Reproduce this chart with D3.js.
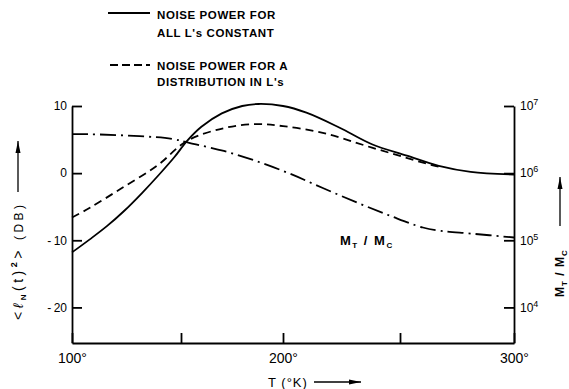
<!DOCTYPE html>
<html>
<head>
<meta charset="utf-8">
<script src="https://cdn.jsdelivr.net/npm/d3@7"></script>
<style>
  body { margin: 0; background: #fff; }
  svg { display: block; font-family: "Liberation Sans", Arial, sans-serif; }
</style>
</head>
<body>
<svg id="chart" width="569" height="389"></svg>
<script>
// temperatures (deg K) and values
const solidT  = [100, 108, 116, 124, 132, 140, 147, 153, 160, 170, 180, 188, 200, 210, 224, 238, 253, 267, 281, 300];
const solidDB = [-11.8, -9.9, -7.9, -5.6, -3.0, -0.2, 2.4, 4.8, 6.9, 8.9, 10.0, 10.3, 10.0, 9.0, 6.8, 4.3, 2.6, 1.1, 0.2, -0.2];

const dashT  = [100, 108, 122, 139, 153, 171, 187, 200, 217, 238, 264, 268];
const dashDB = [-6.6, -5.2, -2.4, 1.1, 4.8, 6.7, 7.3, 7.0, 6.0, 3.8, 1.2, 0.9];

const ratioT = [100, 108, 131, 146, 154, 171, 187, 203, 217, 232, 246, 260, 268, 281, 300];
const ratioM = [3.8e6, 3.8e6, 3.55e6, 3.24e6, 2.82e6, 2.14e6, 1.51e6, 9.8e5, 6.0e5, 3.6e5, 2.3e5, 1.55e5, 1.38e5, 1.26e5, 1.1e5];

const xTicks = [100, 150, 200, 250, 300];
const xLabels = {100: "100°", 200: "200°", 300: "300°"};
const dbTicks = [10, 0, -10, -20];
const mTicks = [1e4, 1e5, 1e6, 1e7];

const svg = d3.select("#chart");
const plot = {left: 72, right: 514, top: 106, bottom: 343};

// the hand-drawn T axis is not quite even, so follow its tick marks
const x = d3.scaleLinear()
  .domain([100, 150, 200, 250, 300])
  .range([plot.left, 181, 283, 400, plot.right]);

const y = d3.scaleLinear().domain([-25.3, 10]).range([plot.bottom, plot.top]);
const yM = d3.scaleLog().domain([Math.pow(10, 7 - 3.53), 1e7]).range([plot.bottom, plot.top]);

// axes
const gx = svg.append("g")
  .attr("transform", "translate(0," + plot.bottom + ")")
  .call(d3.axisBottom(x).tickValues(xTicks).tickSize(-10).tickSizeOuter(0).tickPadding(10)
    .tickFormat(function(d) { return xLabels[d] || ""; }));

const gy = svg.append("g")
  .attr("transform", "translate(" + plot.left + ",0)")
  .call(d3.axisLeft(y).tickValues(dbTicks).tickSize(-10).tickSizeOuter(0).tickPadding(5)
    .tickFormat(function(d) { return d < 0 ? "-\u2009" + (-d) : d; }));

const gm = svg.append("g")
  .attr("transform", "translate(" + plot.right + ",0)")
  .call(d3.axisRight(yM).tickValues(mTicks).tickSize(-10).tickSizeOuter(0).tickPadding(6)
    .tickFormat(function() { return ""; }));

gm.selectAll(".tick text").each(function(d) {
  const t = d3.select(this);
  t.append("tspan").text("10");
  t.append("tspan").attr("dy", "-5").attr("font-size", 9).text(Math.round(Math.log10(d)));
});

svg.selectAll(".domain, .tick line").attr("stroke", "#000").attr("stroke-width", 1.8);
gx.selectAll("text").attr("font-size", 14).attr("fill", "#000");
gy.selectAll("text").attr("font-size", 12).attr("fill", "#000");
gm.selectAll("text").attr("font-size", 12).attr("fill", "#000");

// curves
const lineDB = d3.line()
  .x(function(d) { return x(d[0]); })
  .y(function(d) { return y(d[1]); })
  .curve(d3.curveCatmullRom.alpha(0.5));
const lineM = d3.line()
  .x(function(d) { return x(d[0]); })
  .y(function(d) { return yM(d[1]); })
  .curve(d3.curveCatmullRom.alpha(0.5));

svg.append("path")
  .datum(d3.zip(solidT, solidDB))
  .attr("d", lineDB)
  .attr("fill", "none").attr("stroke", "#000").attr("stroke-width", 1.8);

svg.append("path")
  .datum(d3.zip(dashT, dashDB))
  .attr("d", lineDB)
  .attr("fill", "none").attr("stroke", "#000").attr("stroke-width", 1.8)
  .attr("stroke-dasharray", "8,5");

svg.append("path")
  .datum(d3.zip(ratioT, ratioM))
  .attr("d", lineM)
  .attr("fill", "none").attr("stroke", "#000").attr("stroke-width", 1.8)
  .attr("stroke-dasharray", "16,5,2,5");

// legend
const legend = svg.append("g").attr("font-size", 11.5).attr("font-weight", "bold").attr("letter-spacing", 0.6);
legend.append("line").attr("x1", 108).attr("x2", 150).attr("y1", 13).attr("y2", 13)
  .attr("stroke", "#000").attr("stroke-width", 1.8);
legend.append("text").attr("x", 157).attr("y", 19).text("NOISE POWER FOR");
legend.append("text").attr("x", 157).attr("y", 37).text("ALL L's CONSTANT");
legend.append("line").attr("x1", 110).attr("x2", 150).attr("y1", 65).attr("y2", 65)
  .attr("stroke", "#000").attr("stroke-width", 1.8).attr("stroke-dasharray", "8,4");
legend.append("text").attr("x", 157).attr("y", 70).text("NOISE POWER FOR A");
legend.append("text").attr("x", 157).attr("y", 86).text("DISTRIBUTION IN L's");

// inner curve label
const inner = svg.append("text").attr("x", 340).attr("y", 245)
  .attr("font-size", 13).attr("font-weight", "bold").attr("letter-spacing", 1.5);
inner.append("tspan").text("M");
inner.append("tspan").attr("dy", 3).attr("font-size", 8).text("T");
inner.append("tspan").attr("dy", -3).text(" / M");
inner.append("tspan").attr("dy", 3).attr("font-size", 8).text("C");

// arrow helper
function arrow(x1, y1, x2, y2) {
  svg.append("line").attr("x1", x1).attr("y1", y1).attr("x2", x2).attr("y2", y2)
    .attr("stroke", "#000").attr("stroke-width", 1.3);
  const a = Math.atan2(y2 - y1, x2 - x1), L = 12, W = 2.5;
  const bx = x2 - L * Math.cos(a), by = y2 - L * Math.sin(a);
  svg.append("path")
    .attr("d", "M" + x2 + "," + y2 +
      "L" + (bx - W * Math.sin(a)) + "," + (by + W * Math.cos(a)) +
      "L" + (bx + W * Math.sin(a)) + "," + (by - W * Math.cos(a)) + "Z")
    .attr("fill", "#000");
}

// x axis title
svg.append("text").attr("x", 268).attr("y", 387).attr("font-size", 13).attr("letter-spacing", 1)
  .text("T (°K)");
arrow(314, 382, 361, 382);

// left axis title
const yl = svg.append("text")
  .attr("transform", "translate(23,320) rotate(-90)")
  .attr("font-size", 14).attr("letter-spacing", 3.5);
yl.append("tspan").text("<");
yl.append("tspan").attr("font-style", "italic").text("ℓ");
yl.append("tspan").attr("dy", 3).attr("font-size", 8).attr("font-weight", "bold").text("N");
yl.append("tspan").attr("dy", -3).text("(t)");
yl.append("tspan").attr("dy", -6).attr("font-size", 9).attr("font-weight", "bold").text("2");
yl.append("tspan").attr("dy", 6).text(">");
yl.append("tspan").attr("dx", 7).attr("font-size", 12).text("(DB)");
arrow(18, 192, 18, 141);

// right axis title
const ml = svg.append("text")
  .attr("transform", "translate(564,297) rotate(-90)")
  .attr("font-size", 12).attr("font-weight", "bold").attr("letter-spacing", 1);
ml.append("tspan").text("M");
ml.append("tspan").attr("dy", 3).attr("font-size", 8).text("T");
ml.append("tspan").attr("dy", -3).text(" / M");
ml.append("tspan").attr("dy", 3).attr("font-size", 8).text("C");
arrow(560, 226, 560, 177);
</script>
</body>
</html>
